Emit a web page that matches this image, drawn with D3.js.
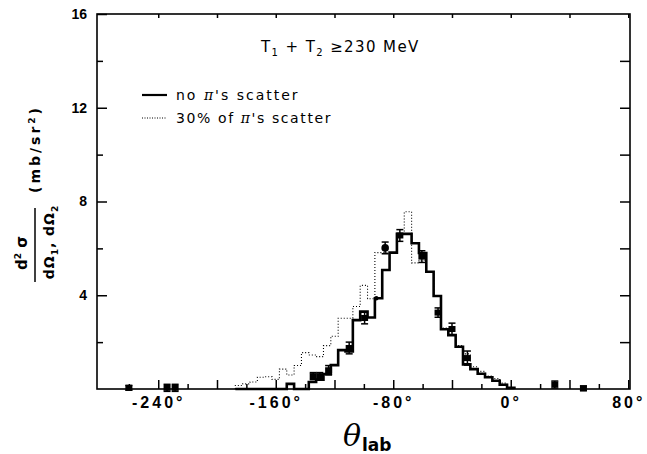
<!DOCTYPE html>
<html>
<head>
<meta charset="utf-8">
<script src="https://cdnjs.cloudflare.com/ajax/libs/d3/7.8.5/d3.min.js"></script>
<style>
body { margin: 0; background: #fff; }
svg text { font-family: "DejaVu Sans", sans-serif; fill: #000; }
.tick line { stroke: #000; stroke-width: 1.5; }
.ticklab text { font-family: "Liberation Sans", Arial, sans-serif; font-weight: bold; }
</style>
</head>
<body>
<div class="canvas"></div>
<script>
// histogram bin centres (deg), 5 deg wide
var binCenters = [-185, -180, -175, -170, -165, -160, -155, -150, -145, -140,
                  -135, -130, -125, -120, -115, -110, -105, -100, -95, -90,
                  -85, -80, -75, -70, -65, -60, -55, -50, -45, -40,
                  -35, -30, -25, -20, -15, -10, -5, 0];
// no pi's scatter (solid)
var noScatter = [0, 0, 0, 0, 0, 0, 0, 0.22, 0, 0,
                 0.3, 0.4, 0.64, 1.02, 1.66, 1.6, 2.94, 3.3, 3.05, 3.87,
                 5.08, 5.82, 6.62, 6.62, 6.22, 5.8, 5.0, 3.97, 2.55, 2.3,
                 1.8, 1.05, 0.85, 0.65, 0.5, 0.35, 0.18, 0.05];
// 30% of pi's scatter (dotted)
var withScatter = [0.15, 0.22, 0.3, 0.5, 0.52, 0.41, 0.85, 0.6, 1.0, 1.55,
                   1.45, 1.38, 1.85, 2.25, 3.02, 3.02, 3.52, 4.42, 3.85, 5.82,
                   5.82, 5.82, 6.62, 7.56, 5.38, 5.5, 5.0, 3.95, 2.6, 2.3,
                   1.85, 1.5, 0.95, 0.75, 0.55, 0.45, 0.25, 0.05];
// measured points
var pointAngles = [-260, -234, -228.5, -134.5, -130, -124, -110, -99.5, -91.5, -85.5,
                   -75.5, -60.5, -49.5, -40, -29.5, 30, 49.5];
var pointValues = [0.05, 0.05, 0.05, 0.55, 0.55, 0.8, 1.75, 3.03, 3.87, 6.02,
                   6.55, 5.65, 3.26, 2.56, 1.32, 0.19, 0.03];
var pointErrors = [0.1, 0.15, 0.15, 0.15, 0.15, 0.2, 0.25, 0.25, 0.1, 0.25,
                   0.25, 0.25, 0.2, 0.25, 0.3, 0.15, 0.1];
var pointShapes = ["sq", "sq", "sq", "sq", "sq", "sq", "sq", "sq", "dot", "circ",
                   "sq", "sq", "sq", "sq", "sq", "sq", "sq"];

var xMajorTicks = [-240, -200, -160, -120, -80, -40, 0, 40, 80];
var xMinorTicks = [-260, -220, -180, -140, -100, -60, -20, 20, 60];
var xTickLabels = [-240, -160, -80, 0, 80];
var yMajorTicks = [4, 8, 12, 16];
var yMinorTicks = [2, 6, 10, 14];

var svg, x, y;

function init() {
    var width = 647,
        height = 454;
    svg = d3.select(".canvas").append("svg")
            .attr("width", width)
            .attr("height", height);

    x = d3.scaleLinear().domain([-281.7, 81.2]).range([97, 630]);
    y = d3.scaleLinear().domain([0, 16]).range([389, 14]);

    drawAxes();
    drawHist(noScatter, "solid");
    drawHist(withScatter, "dotted");
    drawPoints();
    drawText();
}

function drawAxes() {
    var b = y(0), t = y(16), l = x.range()[0], r = x.range()[1];

    // bottom
    svg.append("g").attr("class", "ticklab")
       .attr("transform", "translate(0," + b + ")")
       .call(d3.axisBottom(x).tickValues(xMajorTicks).tickSizeInner(-9).tickSizeOuter(0).tickPadding(8)
             .tickFormat(function (d) { return xTickLabels.indexOf(d) >= 0 ? d + "°" : ""; }))
       .call(function (g) {
           g.select(".domain").remove();
           g.selectAll("text").style("font-size", "16px").style("letter-spacing", "3px");
       });
    svg.append("g")
       .attr("transform", "translate(0," + b + ")")
       .call(d3.axisBottom(x).tickValues(xMinorTicks).tickSizeInner(-5).tickSizeOuter(0).tickFormat(""))
       .call(function (g) { g.select(".domain").remove(); });

    // top
    svg.append("g")
       .attr("transform", "translate(0," + t + ")")
       .call(d3.axisTop(x).tickValues(xMajorTicks).tickSizeInner(-4).tickSizeOuter(0).tickFormat(""))
       .call(function (g) { g.select(".domain").remove(); });

    // left
    svg.append("g").attr("class", "ticklab")
       .attr("transform", "translate(" + l + ",0)")
       .call(d3.axisLeft(y).tickValues(yMajorTicks).tickSizeInner(-10).tickSizeOuter(0).tickPadding(10))
       .call(function (g) {
           g.select(".domain").remove();
           g.selectAll("text").style("font-size", "14px");
       });
    svg.append("g")
       .attr("transform", "translate(" + l + ",0)")
       .call(d3.axisLeft(y).tickValues(yMinorTicks).tickSizeInner(-6).tickSizeOuter(0).tickFormat(""))
       .call(function (g) { g.select(".domain").remove(); });

    // right
    svg.append("g")
       .attr("transform", "translate(" + r + ",0)")
       .call(d3.axisRight(y).tickValues(yMinorTicks.concat([4, 8, 12])).tickSizeInner(-10).tickSizeOuter(0).tickFormat(""))
       .call(function (g) { g.select(".domain").remove(); });

    svg.append("rect")
       .attr("x", l).attr("y", t)
       .attr("width", r - l).attr("height", b - t)
       .style("fill", "none")
       .attr("stroke", "black")
       .attr("stroke-width", 1.6);
}

function drawHist(values, style) {
    var pts = [[binCenters[0] - 2.5, 0]];
    binCenters.forEach(function (c, i) {
        pts.push([c - 2.5, values[i]]);
        pts.push([c + 2.5, values[i]]);
    });
    pts.push([binCenters[binCenters.length - 1] + 2.5, 0]);

    var line = d3.line()
        .x(function (d) { return x(d[0]); })
        .y(function (d) { return y(d[1]); });

    var p = svg.append("path")
       .attr("d", line(pts))
       .style("fill", "none")
       .attr("stroke", "black");
    if (style == "solid") {
        p.attr("stroke-width", 2.6).attr("stroke-linejoin", "miter");
    } else {
        p.attr("stroke-width", 1.1).attr("stroke-dasharray", "1,2");
    }
}

function drawPoints() {
    pointAngles.forEach(function (a, i) {
        var cx = x(a), cy = y(pointValues[i]);
        var y0 = y(pointValues[i] - pointErrors[i]), y1 = y(pointValues[i] + pointErrors[i]);
        var g = svg.append("g").attr("class", "dot");
        if (pointShapes[i] != "dot") {
            g.append("line").attr("x1", cx).attr("x2", cx).attr("y1", y0).attr("y2", y1)
             .attr("stroke", "black").attr("stroke-width", 1.5);
            [y0, y1].forEach(function (yy) {
                g.append("line").attr("x1", cx - 3.5).attr("x2", cx + 3.5).attr("y1", yy).attr("y2", yy)
                 .attr("stroke", "black").attr("stroke-width", 1.5);
            });
        }
        if (pointShapes[i] == "sq") {
            g.append("rect").attr("x", cx - 3.5).attr("y", cy - 3).attr("width", 7).attr("height", 6)
             .style("fill", "black");
        } else if (pointShapes[i] == "circ") {
            g.append("circle").attr("cx", cx).attr("cy", cy).attr("r", 3.8).style("fill", "black");
        } else {
            g.append("circle").attr("cx", cx).attr("cy", cy).attr("r", 2.2).style("fill", "black");
        }
    });
}

function drawText() {
    // title
    var t = svg.append("text").attr("x", 261).attr("y", 52)
               .style("font-size", "15px").style("letter-spacing", "1.4px");
    t.append("tspan").text("T");
    t.append("tspan").attr("dy", 4).style("font-size", "10px").text("1");
    t.append("tspan").attr("dy", -4).text(" + T");
    t.append("tspan").attr("dy", 4).style("font-size", "10px").text("2");
    t.append("tspan").attr("dy", -4).text("  ≥230 MeV");

    // legend
    svg.append("line").attr("x1", 142).attr("x2", 167).attr("y1", 95).attr("y2", 95)
       .attr("stroke", "black").attr("stroke-width", 2.2);
    svg.append("line").attr("x1", 142).attr("x2", 167).attr("y1", 118).attr("y2", 118)
       .attr("stroke", "black").attr("stroke-width", 1).attr("stroke-dasharray", "1,1.5");
    var l1 = svg.append("text").attr("x", 176).attr("y", 100)
                .style("font-size", "14px").style("letter-spacing", "2px");
    l1.append("tspan").text("no ");
    l1.append("tspan").style("font-style", "italic").style("font-family", "DejaVu Serif").text("π");
    l1.append("tspan").text("'s  scatter");
    var l2 = svg.append("text").attr("x", 176).attr("y", 123)
                .style("font-size", "14px").style("letter-spacing", "1.6px");
    l2.append("tspan").text("30% of ");
    l2.append("tspan").style("font-style", "italic").style("font-family", "DejaVu Serif").text("π");
    l2.append("tspan").text("'s  scatter");

    // x title
    svg.append("text").attr("x", 343).attr("y", 446)
       .style("font-family", "DejaVu Serif").style("font-style", "italic").style("font-size", "30px")
       .text("θ");
    svg.append("text").attr("x", 362).attr("y", 451)
       .style("font-weight", "bold").style("font-size", "17px")
       .text("lab");

    // y title
    svg.append("text").attr("transform", "translate(40,149) rotate(-90)")
       .attr("text-anchor", "middle")
       .style("font-size", "14px").style("letter-spacing", "3px").style("font-weight", "bold")
       .html("(mb/sr<tspan dy='-5' style='font-size:9px'>2</tspan><tspan dy='5'>)</tspan>");
    var num = svg.append("text").attr("transform", "translate(27,253) rotate(-90)")
       .attr("text-anchor", "middle")
       .style("font-size", "15px").style("font-weight", "bold");
    num.append("tspan").text("d");
    num.append("tspan").attr("dy", -6).style("font-size", "9px").text("2");
    num.append("tspan").attr("dy", 6).text(" σ");
    svg.append("line").attr("x1", 35).attr("x2", 35).attr("y1", 208).attr("y2", 282)
       .attr("stroke", "black").attr("stroke-width", 1.5);
    var den = svg.append("text").attr("transform", "translate(54,242) rotate(-90)")
       .attr("text-anchor", "middle")
       .style("font-size", "14px").style("font-weight", "bold").style("letter-spacing", "1px");
    den.append("tspan").text("dΩ");
    den.append("tspan").attr("dy", 4).style("font-size", "9px").text("1");
    den.append("tspan").attr("dy", -4).text(", dΩ");
    den.append("tspan").attr("dy", 4).style("font-size", "9px").text("2");
}

init();
</script>
</body>
</html>
